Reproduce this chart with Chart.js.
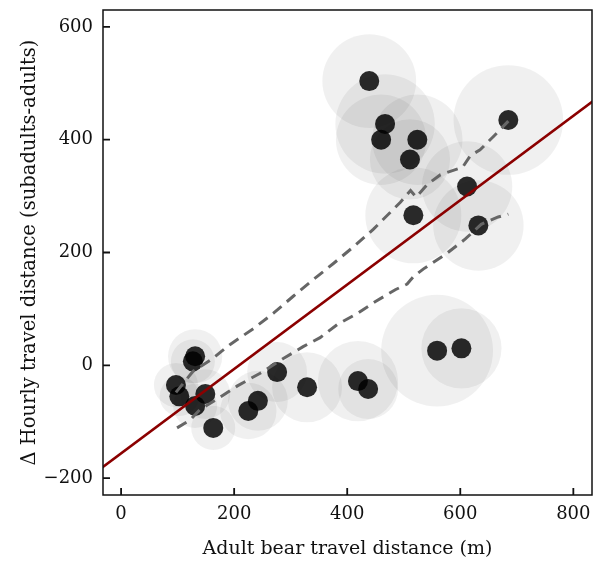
<!DOCTYPE html>
<html>
<head>
<meta charset="utf-8">
<script src="https://cdn.jsdelivr.net/npm/chart.js@4"></script>
<style>
html,body{margin:0;padding:0;background:#fff;}
#wrap{width:608px;height:566px;}
</style>
</head>
<body>
<div id="wrap"><canvas id="c" width="608" height="566"></canvas></div>
<script>
// Data
const adultDist = [131,127,97,103,149,131,163,276,329,242,225,419,437,559,602,439,467,460,524,511,685,612,517,632];
const deltaHourly = [16,7,-35,-55,-51,-72,-111,-12,-39,-63,-81,-28,-42,26,30,504,428,400,400,365,435,317,266,248];
const haloSpread = [48,39,39,35,44,39,39,53,62,53,50,71,53,99,71,83,88,80,80,71,97,80,85,80];

const upperX = [97,127,158,193,234,269,304,340,375,411,446,480,494,512,522,542,565,604,618,635,660,685];
const upperY = [-48,-11,9,37,65,92,122,152,180,210,241,275,289,310,298,321,338,351,372,382,407,433];
const lowerX = [99,122,140,170,205,246,287,322,352,382,418,450,485,506,517,535,573,609,637,667,685];
const lowerY = [-111,-97,-78,-60,-37,-14,12,33,49,72,92,113,134,144,157,171,196,224,250,263,268];

const fitX = [-60, 860];
const fitY = [-156 + 0.748 * -60, -156 + 0.748 * 860];

const xTicks = [0,200,400,600,800];
const yTicks = [-200,0,200,400,600];

const pts = adultDist.map((x,i)=>({x:x,y:deltaHourly[i]}));
const up = upperX.map((x,i)=>({x:x,y:upperY[i]}));
const lo = lowerX.map((x,i)=>({x:x,y:lowerY[i]}));
const fit = fitX.map((x,i)=>({x:x,y:fitY[i]}));

const FONT = "'DejaVu Serif', serif";
const fmt = (v)=> String(v).replace('-', '\u2212');

const frame = {
  id:'frame',
  afterDatasetsDraw(chart){
    const {ctx, chartArea:a, scales} = chart;
    ctx.save();
    ctx.strokeStyle = '#111';
    ctx.lineWidth = 1.5;
    ctx.strokeRect(a.left, a.top, a.right-a.left, a.bottom-a.top);
    ctx.lineWidth = 1.8;
    ctx.beginPath();
    xTicks.forEach(v=>{const p=scales.x.getPixelForValue(v); ctx.moveTo(p,a.bottom); ctx.lineTo(p,a.bottom-7);});
    yTicks.forEach(v=>{const p=scales.y.getPixelForValue(v); ctx.moveTo(a.left,p); ctx.lineTo(a.left+7,p);});
    ctx.stroke();
    ctx.restore();
  }
};

new Chart(document.getElementById('c'), {
  type:'scatter',
  data:{datasets:[
    {label:'fit', data:fit, showLine:true, borderColor:'#8b0000', borderWidth:2.6, pointRadius:0, order:1},
    {label:'upper', data:up, showLine:true, borderColor:'#666666', borderWidth:3, borderDash:[11,7], pointRadius:0, order:2},
    {label:'lower', data:lo, showLine:true, borderColor:'#666666', borderWidth:3, borderDash:[11,7], pointRadius:0, order:2},
    {label:'points', data:pts, pointRadius:10, pointBackgroundColor:'rgba(0,0,0,0.83)', pointBorderWidth:0, order:3},
    {label:'halo', data:pts, pointBackgroundColor:'rgba(0,0,0,0.06)', pointBorderWidth:0, order:4,
     pointRadius:(ctx)=>{const s=ctx.chart.scales.x; if(!s) return 0; const v=haloSpread[ctx.dataIndex]; return Math.abs(s.getPixelForValue(v)-s.getPixelForValue(0));}}
  ]},
  options:{
    responsive:false, animation:false, events:[],
    layout:{padding:{left:18,top:7,right:16,bottom:0}},
    plugins:{legend:{display:false}, tooltip:{enabled:false}},
    scales:{
      x:{type:'linear', min:-32, max:833,
        afterFit:(s)=>{s.height=71; s.paddingLeft=0; s.paddingRight=0;},
        afterBuildTicks:(s)=>{s.ticks=xTicks.map(v=>({value:v}));},
        grid:{display:false, drawTicks:false}, border:{display:false},
        ticks:{font:{family:FONT,size:18}, color:'#111', padding:9, maxRotation:0, callback:fmt},
        title:{display:true, text:'Adult bear travel distance (m)', font:{family:FONT,size:19}, color:'#111', padding:{top:4,bottom:6}}
      },
      y:{type:'linear', min:-230, max:630,
        afterFit:(s)=>{s.width=85; s.paddingTop=0; s.paddingBottom=0;},
        afterBuildTicks:(s)=>{s.ticks=yTicks.map(v=>({value:v}));},
        grid:{display:false, drawTicks:false}, border:{display:false},
        ticks:{font:{family:FONT,size:18}, color:'#111', padding:10, callback:fmt},
        title:{display:true, text:'Δ Hourly travel distance (subadults-adults)', font:{family:FONT,size:19.5}, color:'#111', padding:{top:0,bottom:4}}
      }
    }
  },
  plugins:[frame]
});
</script>
</body>
</html>
